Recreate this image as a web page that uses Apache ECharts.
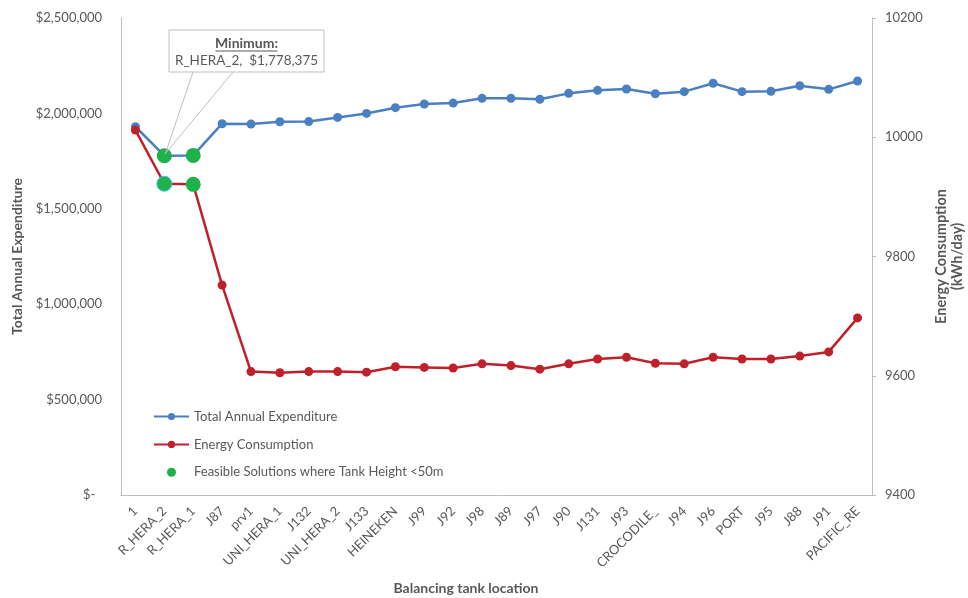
<!DOCTYPE html>
<html><head><meta charset="utf-8">
<script src="https://cdn.jsdelivr.net/npm/echarts@6/dist/echarts.min.js"></script>
<style>html,body{margin:0;padding:0;background:#fff}#c{width:968px;height:598px}</style>
</head><body><div id="c"></div>
<script>
const categories = ['1','R_HERA_2','R_HERA_1','J87','prv1','UNI_HERA_1','J132','UNI_HERA_2','J133','HEINEKEN','J99','J92','J98','J89','J97','J90','J131','J93','CROCODILE_','J94','J96','PORT','J95','J88','J91','PACIFIC_RE'];
const expenditure = [1930000,1778375,1780000,1946000,1944000,1956000,1957000,1979000,2000000,2030000,2049000,2054000,2079000,2079000,2074000,2105000,2121000,2128000,2103000,2114000,2158000,2114000,2116000,2145000,2126000,2170000];
const energy = [10012,9922,9921,9752,9607,9605,9607,9607,9606,9615,9614,9613,9620,9617,9611,9620,9628,9631,9621,9620,9631,9628,9628,9633,9640,9697];
const feasibleIdx = [1,2];
const seriesNames = ['Total Annual Expenditure','Energy Consumption','Feasible Solutions where Tank Height <50m'];
const axisNames = ['Balancing tank location','Total Annual Expenditure','Energy Consumption\n(kWh/day)'];
const minLabel = ['Minimum:', 'R_HERA_2,  $1,778,375'];

const FONT = 'Lato';
const GRAY = '#595959';
const AXIS = '#bfbfbf';
const BLUE = '#4a7fc1', RED = '#c0202a', GREEN = '#1fb14a';

const chart = echarts.init(document.getElementById('c'), null, {renderer:'canvas'});
const fmtMoney = v => v === 0 ? '$-  ' : '$' + v.toLocaleString('en-US');

chart.setOption({
  animation:false,
  textStyle:{fontFamily:FONT},
  grid:{left:121,right:96,top:18,bottom:103,containLabel:false,outerBoundsMode:'none'},
  legend:{
    orient:'vertical', left:148, top:403.5, itemGap:11.9, itemWidth:35, itemHeight:9,
    textStyle:{color:GRAY,fontSize:13,fontFamily:FONT,lineHeight:16},
    data:seriesNames
  },
  xAxis:{
    type:'category', data:categories, boundaryGap:true,
    axisLine:{lineStyle:{color:AXIS,width:1}},
    axisTick:{show:false},
    axisLabel:{rotate:45,color:GRAY,fontSize:13,margin:14,interval:0,fontFamily:FONT}
  },
  yAxis:[
    {type:'value',min:0,max:2500000,interval:500000,
     name:axisNames[1],nameLocation:'middle',nameRotate:90,nameGap:97,
     nameTextStyle:{color:GRAY,fontSize:14,fontWeight:'bold',fontFamily:FONT},
     axisLine:{show:true,lineStyle:{color:AXIS}},axisTick:{show:false},splitLine:{show:false},
     axisLabel:{formatter:fmtMoney,color:GRAY,fontSize:13,margin:19,fontFamily:FONT}},
    {type:'value',min:9400,max:10200,interval:200,position:'right',
     name:axisNames[2],nameLocation:'middle',nameRotate:90,nameGap:59,
     nameTextStyle:{color:GRAY,fontSize:14.5,fontWeight:'bold',fontFamily:FONT,lineHeight:16},
     axisLine:{show:true,lineStyle:{color:AXIS}},axisTick:{show:true,length:4,lineStyle:{color:AXIS}},splitLine:{show:false},
     axisLabel:{formatter:v=>String(v),color:GRAY,fontSize:13,margin:13,fontFamily:FONT}}
  ],
  series:[
    {name:seriesNames[0],type:'line',yAxisIndex:0,data:expenditure,symbol:'circle',symbolSize:9,
     lineStyle:{color:BLUE,width:2.5},itemStyle:{color:BLUE},z:2},
    {name:seriesNames[1],type:'line',yAxisIndex:1,data:energy,symbol:'circle',symbolSize:9,
     lineStyle:{color:RED,width:2.5},itemStyle:{color:RED},z:3},
    {name:seriesNames[2],type:'scatter',yAxisIndex:0,symbolSize:15,itemStyle:{color:GREEN,opacity:1},z:5,
     data:feasibleIdx.map(i=>[categories[i],expenditure[i]])},
    {name:seriesNames[2],type:'scatter',yAxisIndex:1,symbolSize:15,itemStyle:{color:GREEN,opacity:1},z:5,
     data:feasibleIdx.map((i,k)=>({value:[categories[i],energy[i]],
       itemStyle: k===0 ? {borderColor:'#3ec4f2',borderWidth:1} : {}}))}
  ]
});

const tip = chart.convertToPixel({xAxisIndex:0,yAxisIndex:0},[categories[1],expenditure[1]]);
const bx=169, by=30, bw=155, bh=42;
chart.setOption({graphic:[
  {type:'line',shape:{x1:193,y1:by+bh,x2:tip[0]+1,y2:tip[1]-2},style:{stroke:AXIS,lineWidth:1},z:100},
  {type:'line',shape:{x1:233,y1:by+bh,x2:tip[0]+1,y2:tip[1]-2},style:{stroke:AXIS,lineWidth:1},z:100},
  {type:'rect',shape:{x:bx,y:by,width:bw,height:bh},style:{fill:'#fff',stroke:AXIS,lineWidth:1},z:101},
  {type:'text',x:bx+bw/2,y:by+13,style:{text:minLabel[0],fill:GRAY,font:'bold 14px '+FONT,align:'center',verticalAlign:'middle'},z:102},
  {type:'line',shape:{x1:bx+bw/2-31,y1:by+21,x2:bx+bw/2+31,y2:by+21},style:{stroke:GRAY,lineWidth:1},z:102},
  {type:'text',x:bx+bw/2,y:by+31,style:{text:minLabel[1],fill:GRAY,font:'13.5px '+FONT,align:'center',verticalAlign:'middle'},z:102},
  {type:'text',x:466,y:588,style:{text:axisNames[0],fill:GRAY,font:'bold 14px '+FONT,align:'center',verticalAlign:'middle'}}
]});
</script></body></html>
